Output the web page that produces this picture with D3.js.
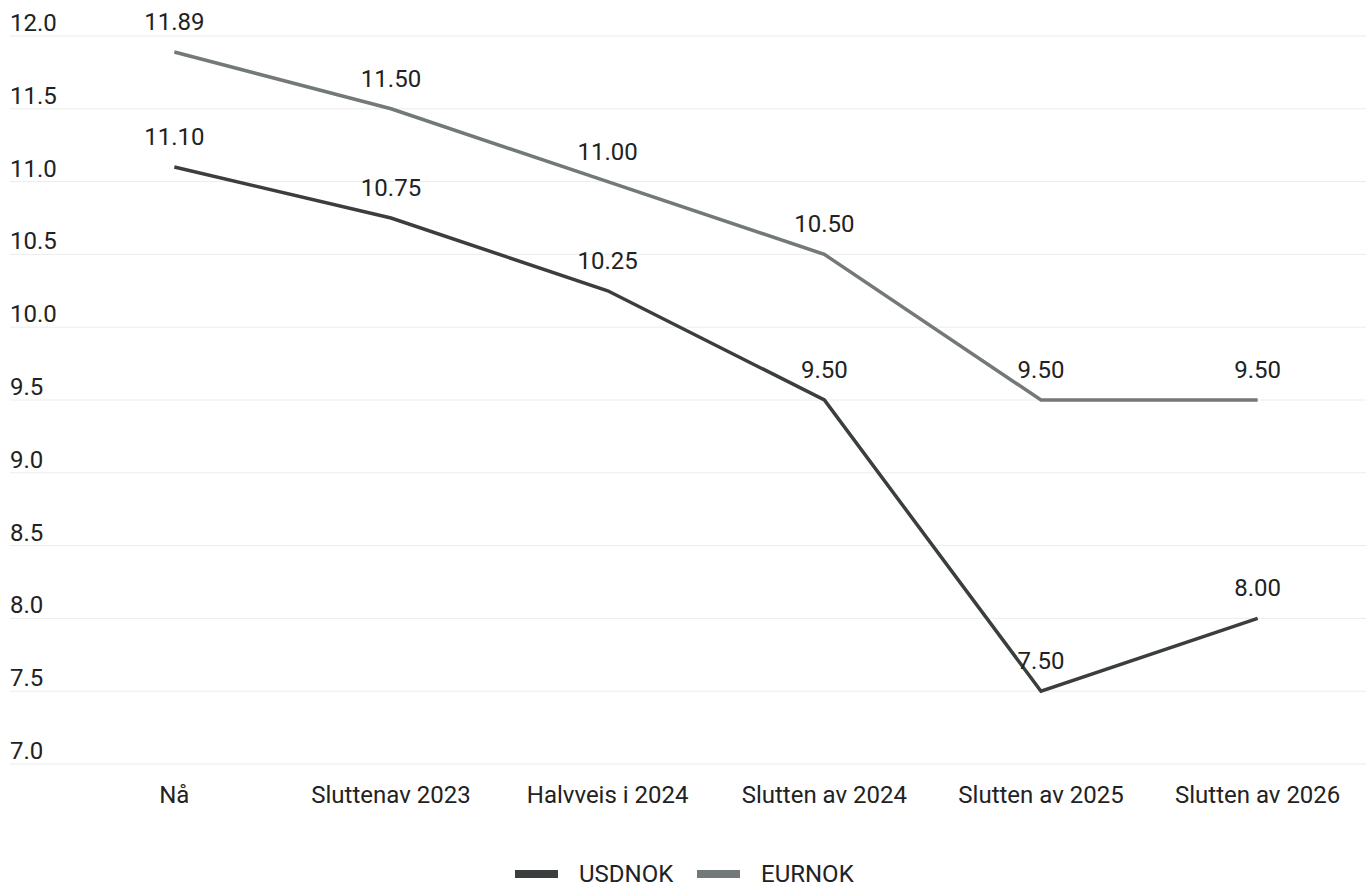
<!DOCTYPE html>
<html>
<head>
<meta charset="utf-8">
<script src="https://cdn.jsdelivr.net/npm/d3@7"></script>
<style>
  body { margin: 0; background: #fff; }
  text { font-family: Roboto, "Noto Sans", sans-serif; fill: #222; }
</style>
</head>
<body>
<div id="chart"></div>
<script>
// data
var categories = ["Nå", "Sluttenav 2023", "Halvveis i 2024", "Slutten av 2024", "Slutten av 2025", "Slutten av 2026"];
var usdnok = [11.10, 10.75, 10.25, 9.50, 7.50, 8.00];
var eurnok = [11.89, 11.50, 11.00, 10.50, 9.50, 9.50];
var yTicks = [7.0, 7.5, 8.0, 8.5, 9.0, 9.5, 10.0, 10.5, 11.0, 11.5, 12.0];
var seriesNames = ["USDNOK", "EURNOK"];
var seriesColors = ["#3b3e3e", "#737878"];

var width = 1371, height = 888;
var svg = d3.select("#chart").append("svg")
  .attr("width", width)
  .attr("height", height);

var x = d3.scaleBand().domain(categories).range([66, 1366]);
var y = d3.scaleLinear().domain([7, 12]).range([764, 36]);

// gridlines + y labels
var grid = svg.append("g");
grid.selectAll("line").data(yTicks).enter().append("line")
  .attr("x1", 10).attr("x2", 1366)
  .attr("y1", function(d) { return y(d); })
  .attr("y2", function(d) { return y(d); })
  .style("stroke", "#ececec")
  .style("stroke-width", 1);

grid.selectAll("text").data(yTicks).enter().append("text")
  .attr("x", 10)
  .attr("y", function(d) { return y(d) - 5; })
  .style("font-size", "24px")
  .text(function(d) { return d3.format(".1f")(d); });

// category labels
svg.append("g").selectAll("text").data(categories).enter().append("text")
  .attr("x", function(d) { return x(d) + x.bandwidth() / 2; })
  .attr("y", 803)
  .attr("text-anchor", "middle")
  .style("font-size", "24px")
  .text(function(d) { return d; });

var line = d3.line()
  .x(function(d, i) { return x(categories[i]) + x.bandwidth() / 2; })
  .y(function(d) { return y(d); });

[usdnok, eurnok].forEach(function(vals, s) {
  var g = svg.append("g");
  g.append("path")
    .datum(vals)
    .attr("d", line)
    .style("fill", "none")
    .style("stroke", seriesColors[s])
    .style("stroke-width", 3.5);

  g.selectAll("text").data(vals).enter().append("text")
    .attr("x", function(d, i) { return x(categories[i]) + x.bandwidth() / 2; })
    .attr("y", function(d) { return y(d) - 22; })
    .attr("text-anchor", "middle")
    .style("font-size", "24px")
    .text(function(d) { return d3.format(".2f")(d); });
});

// legend
var legend = svg.append("g");
var legendX = [515, 697];
seriesNames.forEach(function(name, i) {
  legend.append("rect")
    .attr("x", legendX[i]).attr("y", 870)
    .attr("width", 43).attr("height", 8)
    .style("fill", seriesColors[i]);
  legend.append("text")
    .attr("x", legendX[i] + 64)
    .attr("y", 882)
    .style("font-size", "24px")
    .text(name);
});
</script>
</body>
</html>
